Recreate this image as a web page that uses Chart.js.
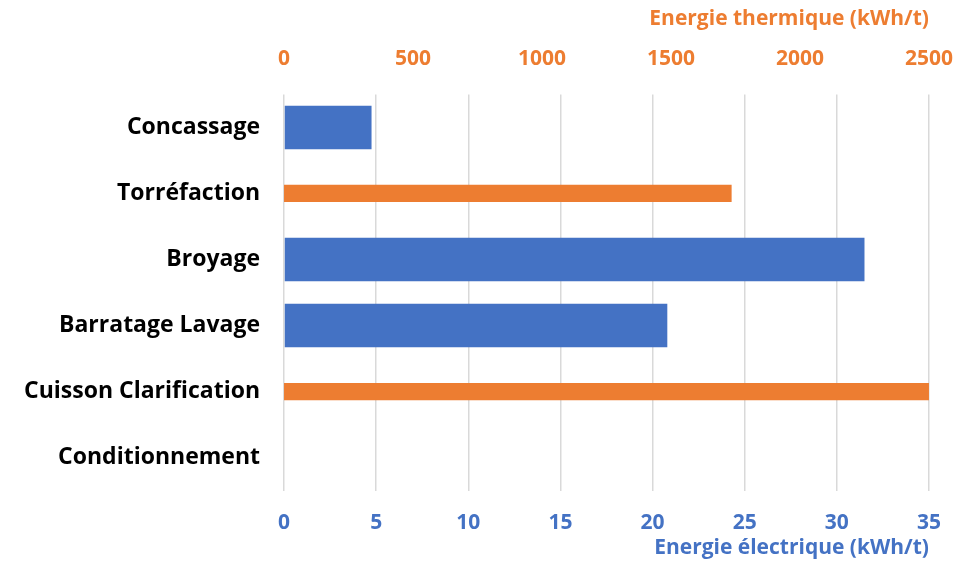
<!DOCTYPE html>
<html>
<head>
<meta charset="utf-8">
<script src="https://cdn.jsdelivr.net/npm/chart.js@4"></script>
<style>
  html, body { margin: 0; padding: 0; background: #fff; }
  #wrap { width: 976px; height: 567px; }
</style>
</head>
<body>
<div id="wrap"><canvas id="energyChart"></canvas></div>
<script>
const steps = ['Concassage', 'Torréfaction', 'Broyage', 'Barratage Lavage', 'Cuisson Clarification', 'Conditionnement']
const electric = [4.75, null, 31.5, 20.8, null, 0]   // kWh/t
const thermal = [null, 1735, null, null, 2500, null]  // kWh/t
const electricTicks = [0, 35, 5]
const thermalTicks = [0, 2500, 500]

const blue = '#4472C4'
const orange = '#ED7D31'
const font = 'Open Sans'

const data = {
    labels: steps,
    datasets: [{
        label: 'Energie électrique',
        data: electric,
        xAxisID: 'xE',
        backgroundColor: blue,
        grouped: false,
        categoryPercentage: 1,
        barPercentage: 0.66
    }, {
        label: 'Energie thermique',
        data: thermal,
        xAxisID: 'xT',
        backgroundColor: orange,
        grouped: false,
        categoryPercentage: 1,
        barPercentage: 0.26
    }]
}

// plain numbers, no thousands separator
const plain = v => String(v)

const config = {
    type: 'bar',
    data: data,
    options: {
        indexAxis: 'y',
        responsive: true,
        maintainAspectRatio: false,
        animation: false,
        layout: { padding: { left: 0, right: 4, top: 6, bottom: 6 } },
        plugins: { legend: { display: false }, tooltip: { enabled: false } },
        scales: {
            y: {
                grid: { display: false, drawTicks: false },
                border: { display: false },
                ticks: { color: '#000', padding: 24, font: { family: font, size: 23, weight: 'bold' } }
            },
            xE: {
                position: 'bottom',
                min: electricTicks[0], max: electricTicks[1],
                ticks: { stepSize: electricTicks[2], callback: plain, color: blue, padding: 20, font: { family: font, size: 21, weight: 'bold' } },
                grid: { color: '#d9d9d9', lineWidth: 1.5, drawTicks: false },
                border: { display: false },
                title: { display: true, text: 'Energie électrique (kWh/t)', align: 'end', color: blue, padding: { top: -20, bottom: 0 }, font: { family: font, size: 21, weight: 'bold' } }
            },
            xT: {
                position: 'top',
                min: thermalTicks[0], max: thermalTicks[1],
                ticks: { stepSize: thermalTicks[2], callback: plain, color: orange, padding: 23, font: { family: font, size: 21, weight: 'bold' } },
                grid: { display: false, drawTicks: false },
                border: { display: false },
                title: { display: true, text: 'Energie thermique (kWh/t)', align: 'end', color: orange, padding: { top: 0, bottom: -8 }, font: { family: font, size: 21, weight: 'bold' } }
            }
        }
    }
}

new Chart(document.getElementById('energyChart'), config)
</script>
</body>
</html>
